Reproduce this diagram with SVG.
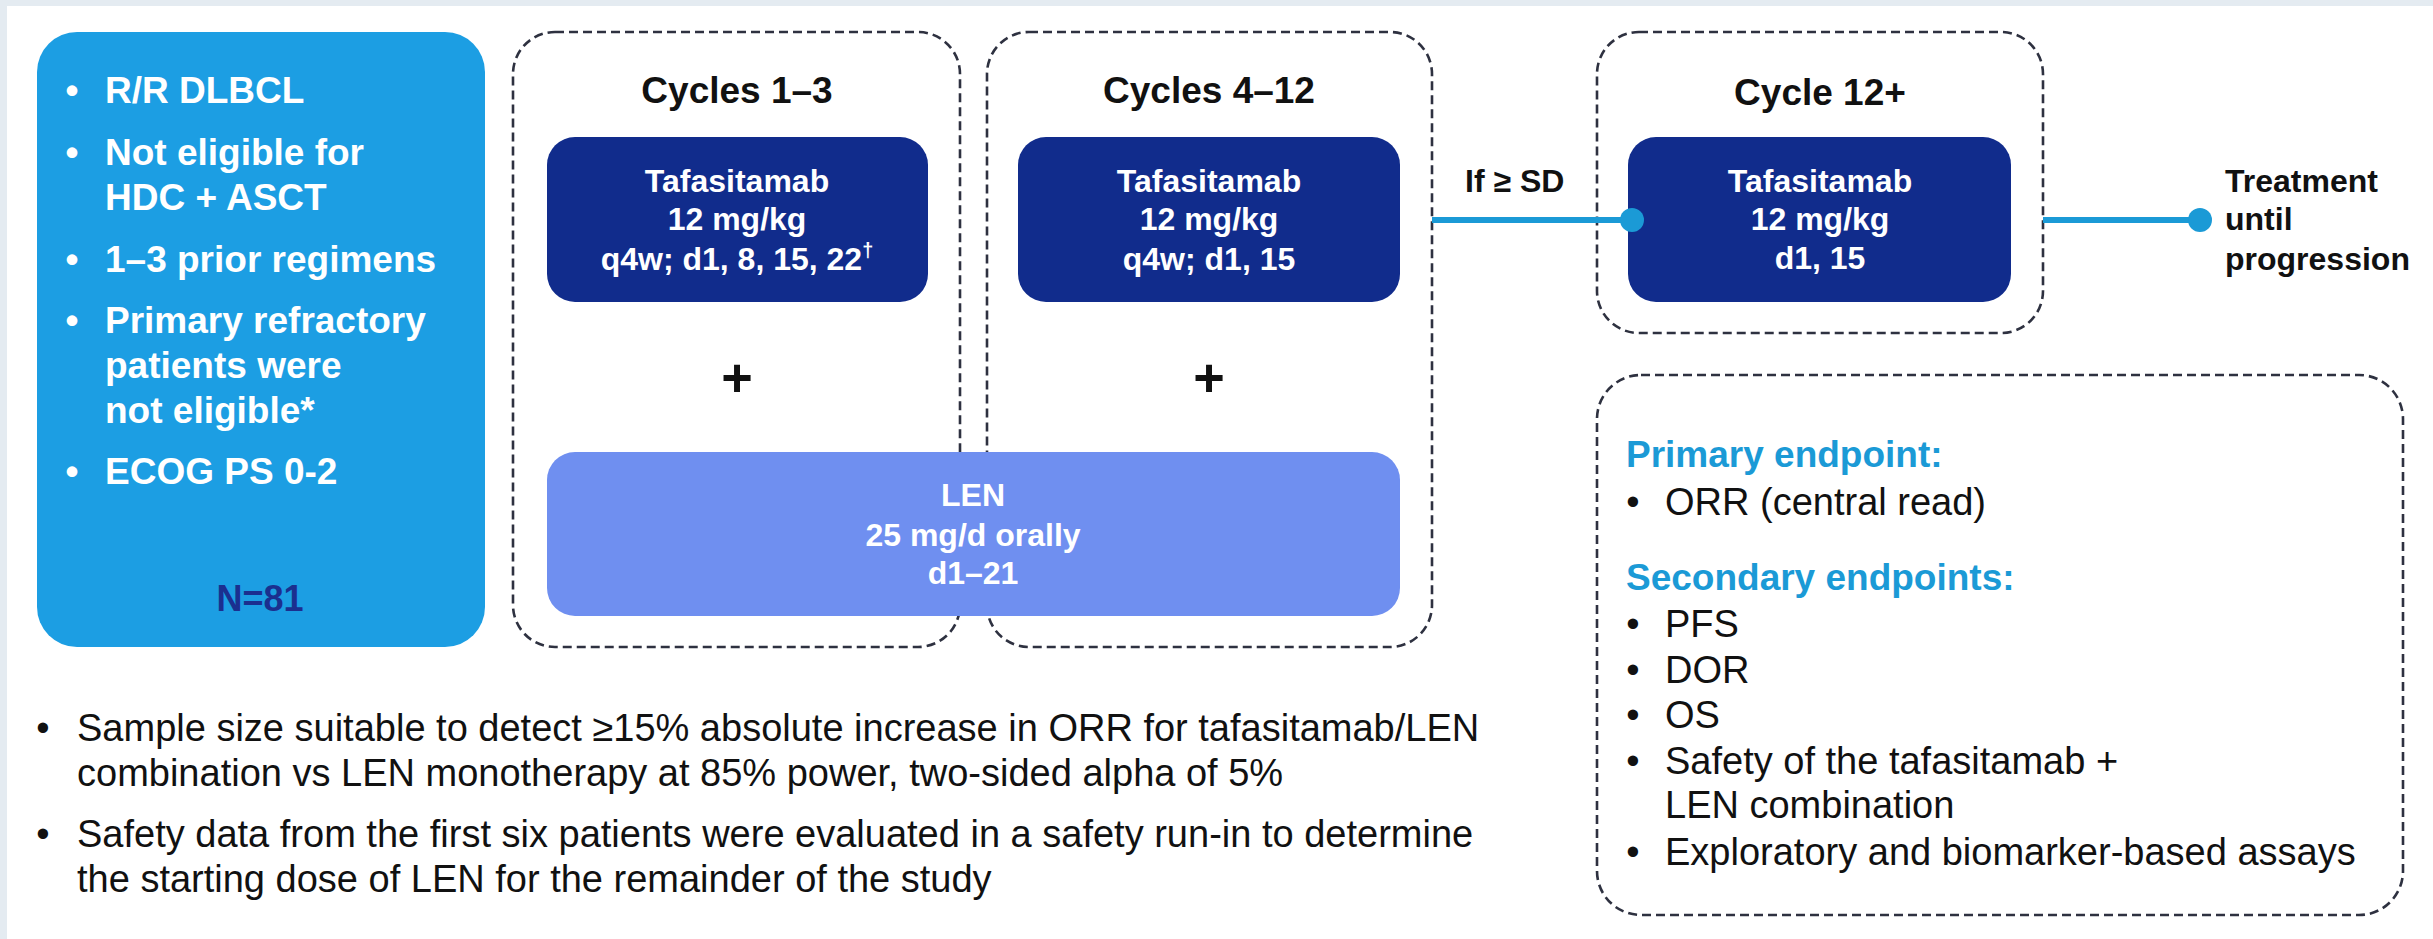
<svg xmlns="http://www.w3.org/2000/svg" width="2433" height="939" viewBox="0 0 2433 939">
<defs>
<style>
.frame{fill:#e4ebf1}
.paper{fill:#ffffff}
.dash{fill:none;stroke:#2e3140;stroke-width:2.6;stroke-dasharray:9 5}
.elig{fill:#1c9ee3}
.taf{fill:#112c8c}
.len{fill:#6f8ff0}
.conn{stroke:#1b9ad6;stroke-width:6;fill:none}
.dot{fill:#1b9ad6}
text{font-family:"Liberation Sans",Arial,Helvetica,sans-serif}
.wb{fill:#ffffff;font-weight:bold;font-size:37px}
.nb{fill:#1b2f8f;font-weight:bold;font-size:36px}
.title{fill:#111111;font-weight:bold;font-size:37px}
.boxt{fill:#ffffff;font-weight:bold;font-size:32px}
.lab{fill:#111111;font-weight:bold;font-size:32px}
.plus{fill:#111111;font-weight:bold;font-size:54px}
.hd{fill:#1b9ad6;font-weight:bold;font-size:37px}
.body{fill:#111111;font-size:38px}
</style>
</defs>
<rect class="frame" x="0" y="0" width="2433" height="939"/>
<rect class="paper" x="7" y="6" width="2426" height="933"/>

<g id="eligibility">
<rect class="elig" x="37" y="32" width="448" height="615" rx="40"/>
<text class="wb" x="72" y="103" text-anchor="middle">•</text>
<text class="wb" x="105" y="103">R/R DLBCL</text>
<text class="wb" x="72" y="165" text-anchor="middle">•</text>
<text class="wb" x="105" y="165">Not eligible for</text>
<text class="wb" x="105" y="210">HDC + ASCT</text>
<text class="wb" x="72" y="272" text-anchor="middle">•</text>
<text class="wb" x="105" y="272">1–3 prior regimens</text>
<text class="wb" x="72" y="333" text-anchor="middle">•</text>
<text class="wb" x="105" y="333">Primary refractory</text>
<text class="wb" x="105" y="378">patients were</text>
<text class="wb" x="105" y="423">not eligible*</text>
<text class="wb" x="72" y="484" text-anchor="middle">•</text>
<text class="wb" x="105" y="484">ECOG PS 0-2</text>
<text class="nb" x="260" y="611" text-anchor="middle">N=81</text>
</g>

<g id="cycles-1-3">
<rect class="dash" x="513" y="32" width="447" height="615" rx="42"/>
<text class="title" x="737" y="103" text-anchor="middle">Cycles 1–3</text>
</g>

<g id="cycles-4-12">
<rect class="dash" x="987" y="32" width="445" height="615" rx="42"/>
<text class="title" x="1209" y="103" text-anchor="middle">Cycles 4–12</text>
</g>

<g id="taf-1-3">
<rect class="taf" x="547" y="137" width="381" height="165" rx="28"/>
<text class="boxt" x="737" y="192" text-anchor="middle">Tafasitamab</text>
<text class="boxt" x="737" y="230" text-anchor="middle">12 mg/kg</text>
<text class="boxt" x="737" y="270" text-anchor="middle">q4w; d1, 8, 15, 22<tspan font-size="20" dy="-13">†</tspan></text>
</g>

<g id="taf-4-12">
<rect class="taf" x="1018" y="137" width="382" height="165" rx="28"/>
<text class="boxt" x="1209" y="192" text-anchor="middle">Tafasitamab</text>
<text class="boxt" x="1209" y="230" text-anchor="middle">12 mg/kg</text>
<text class="boxt" x="1209" y="270" text-anchor="middle">q4w; d1, 15</text>
</g>

<g id="plus-signs">
<text class="plus" x="737" y="396" text-anchor="middle">+</text>
<text class="plus" x="1209" y="396" text-anchor="middle">+</text>
</g>

<g id="len">
<rect class="len" x="547" y="452" width="853" height="164" rx="28"/>
<text class="boxt" x="973" y="506" text-anchor="middle">LEN</text>
<text class="boxt" x="973" y="546" text-anchor="middle">25 mg/d orally</text>
<text class="boxt" x="973" y="584" text-anchor="middle">d1–21</text>
</g>

<g id="cycle-12plus">
<rect class="dash" x="1597" y="32" width="446" height="301" rx="42"/>
<text class="title" x="1820" y="105" text-anchor="middle">Cycle 12+</text>
<rect class="taf" x="1628" y="137" width="383" height="165" rx="28"/>
<text class="boxt" x="1820" y="192" text-anchor="middle">Tafasitamab</text>
<text class="boxt" x="1820" y="230" text-anchor="middle">12 mg/kg</text>
<text class="boxt" x="1820" y="269" text-anchor="middle">d1, 15</text>
</g>

<g id="connectors">
<line class="conn" x1="1432" y1="220" x2="1632" y2="220"/>
<circle class="dot" cx="1632" cy="220" r="12"/>
<line class="conn" x1="2043" y1="220" x2="2200" y2="220"/>
<circle class="dot" cx="2200" cy="220" r="12"/>
<text class="lab" x="1465" y="192">If ≥ SD</text>
</g>

<g id="outcome">
<text class="lab" x="2225" y="192">Treatment</text>
<text class="lab" x="2225" y="230">until</text>
<text class="lab" x="2225" y="270">progression</text>
</g>

<g id="endpoints">
<rect class="dash" x="1597" y="375" width="806" height="540" rx="44"/>
<text class="hd" x="1626" y="467">Primary endpoint:</text>
<text class="body" x="1633" y="515" text-anchor="middle">•</text>
<text class="body" x="1665" y="515">ORR (central read)</text>
<text class="hd" x="1626" y="590">Secondary endpoints:</text>
<text class="body" x="1633" y="637" text-anchor="middle">•</text>
<text class="body" x="1665" y="637">PFS</text>
<text class="body" x="1633" y="683" text-anchor="middle">•</text>
<text class="body" x="1665" y="683">DOR</text>
<text class="body" x="1633" y="728" text-anchor="middle">•</text>
<text class="body" x="1665" y="728">OS</text>
<text class="body" x="1633" y="774" text-anchor="middle">•</text>
<text class="body" x="1665" y="774">Safety of the tafasitamab +</text>
<text class="body" x="1665" y="818">LEN combination</text>
<text class="body" x="1633" y="865" text-anchor="middle">•</text>
<text class="body" x="1665" y="865">Exploratory and biomarker-based assays</text>
</g>

<g id="notes">
<text class="body" x="43" y="741" text-anchor="middle">•</text>
<text class="body" x="77" y="741">Sample size suitable to detect ≥15% absolute increase in ORR for tafasitamab/LEN</text>
<text class="body" x="77" y="786">combination vs LEN monotherapy at 85% power, two-sided alpha of 5%</text>
<text class="body" x="43" y="847" text-anchor="middle">•</text>
<text class="body" x="77" y="847">Safety data from the first six patients were evaluated in a safety run-in to determine</text>
<text class="body" x="77" y="892">the starting dose of LEN for the remainder of the study</text>
</g>
</svg>
